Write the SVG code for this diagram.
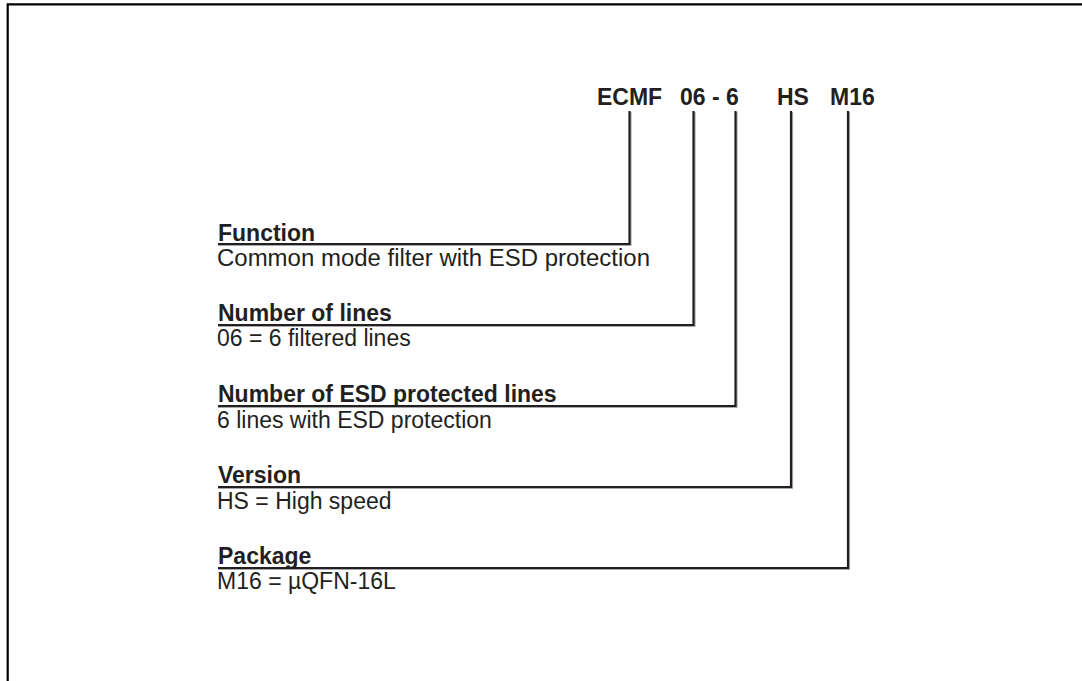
<svg xmlns="http://www.w3.org/2000/svg" width="1082" height="681" viewBox="0 0 1082 681">
<style>
.t{font-family:"Liberation Sans",Arial,sans-serif;fill:#231f20}
.code{font-size:23px;font-weight:bold}
.lab{font-size:23px;font-weight:bold}
.desc{font-size:23px}
.conn{fill:none;stroke:#231f20;stroke-width:2.2;stroke-linejoin:miter}
.shadow{fill:none;stroke:#a7a9ac;stroke-width:2.2;stroke-linejoin:miter}
</style>
<rect x="0" y="0" width="1082" height="681" fill="#ffffff"/>
<path d="M7.7,681 V4.3 H1082" fill="none" stroke="#000000" stroke-width="2.2"/>
<g id="code">
<text class="t code" x="597" y="104.5">ECMF</text>
<text class="t code" x="680" y="104.5">06 - 6</text>
<text class="t code" x="777" y="104.5">HS</text>
<text class="t code" x="830" y="104.5">M16</text>
</g>
<g id="connectors">
<path class="shadow" d="M630.5,112 V245 H218"/>
<path class="shadow" d="M694.5,112 V326 H218"/>
<path class="shadow" d="M736.5,112 V407 H218"/>
<path class="shadow" d="M792,112 V488 H218"/>
<path class="shadow" d="M849,112 V569 H218"/>
<path class="conn" d="M629.5,111 V244 H218"/>
<path class="conn" d="M693.5,111 V325 H218"/>
<path class="conn" d="M735.5,111 V406 H218"/>
<path class="conn" d="M791,111 V487 H218"/>
<path class="conn" d="M848,111 V568 H218"/>
</g>
<g id="function">
<text class="t lab" x="218" y="240.5">Function</text>
<text class="t desc" x="217" y="266" textLength="433" lengthAdjust="spacingAndGlyphs">Common mode filter with ESD protection</text>
</g>
<g id="lines">
<text class="t lab" x="218" y="320.5">Number of lines</text>
<text class="t desc" x="217" y="346">06 = 6 filtered lines</text>
</g>
<g id="esd">
<text class="t lab" x="218" y="401.5">Number of ESD protected lines</text>
<text class="t desc" x="217" y="428">6 lines with ESD protection</text>
</g>
<g id="version">
<text class="t lab" x="218" y="482.5">Version</text>
<text class="t desc" x="217" y="509">HS = High speed</text>
</g>
<g id="package">
<text class="t lab" x="218" y="563.5">Package</text>
<text class="t desc" x="217" y="589">M16 = µQFN-16L</text>
</g>
</svg>
